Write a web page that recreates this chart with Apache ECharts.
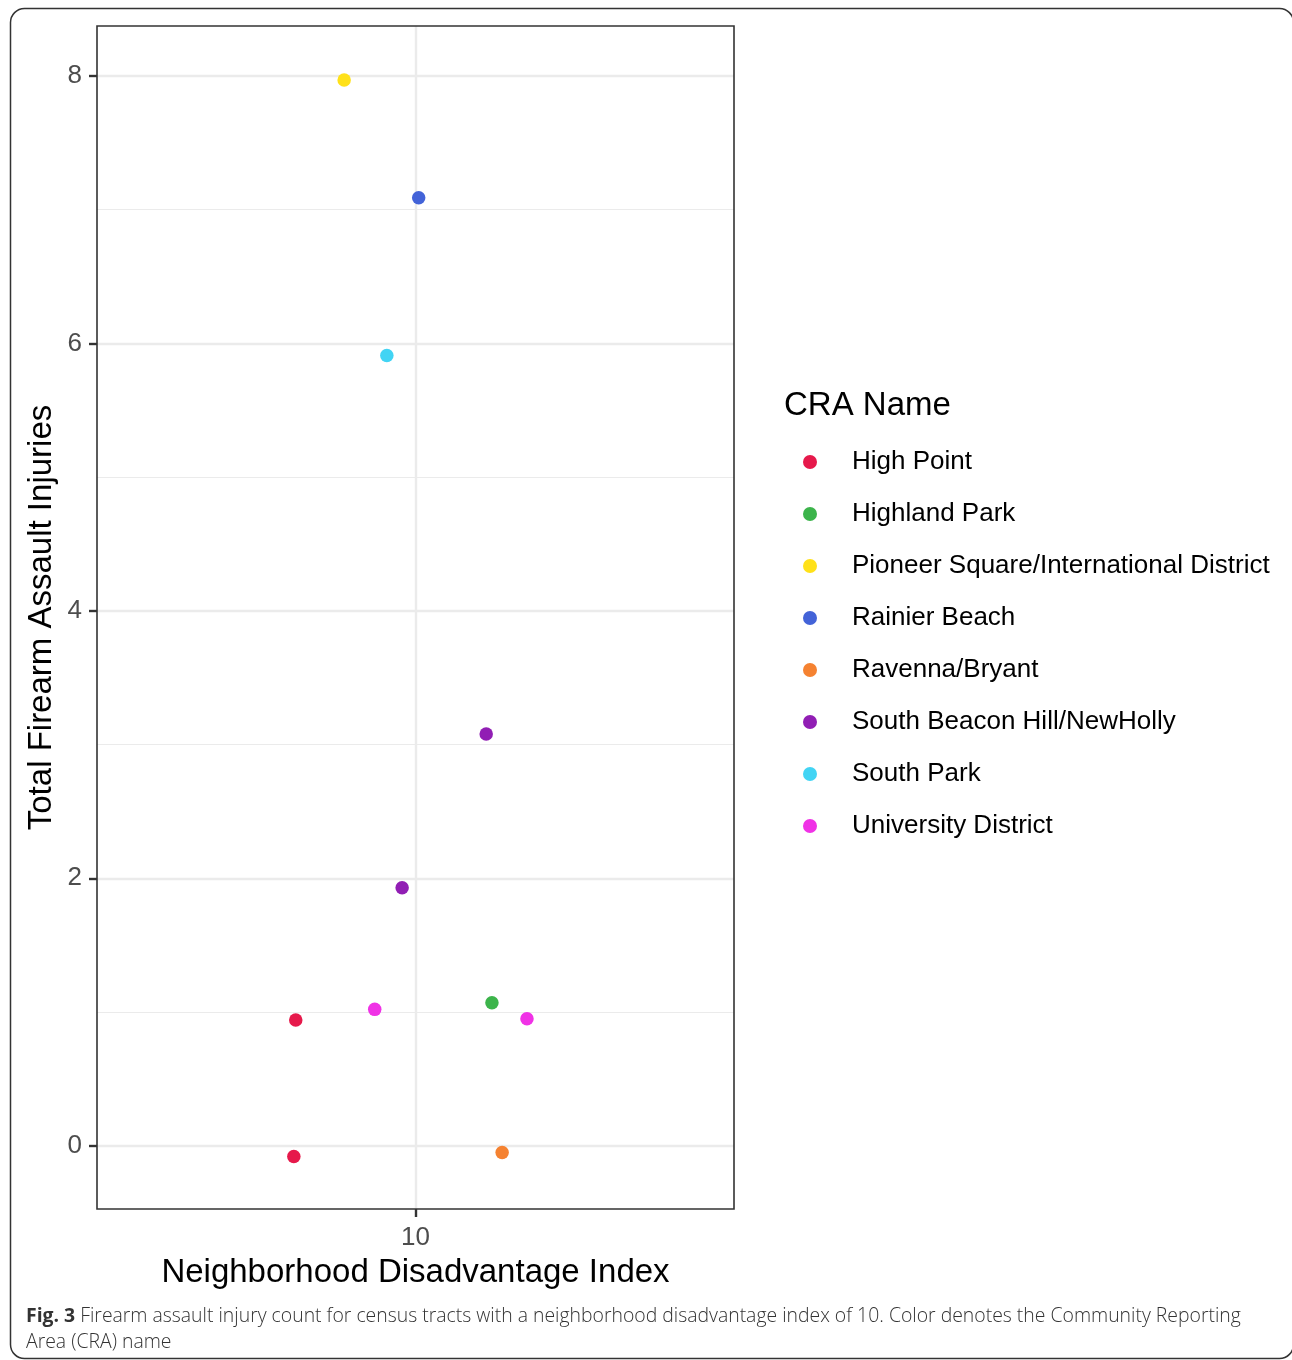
<!DOCTYPE html>
<html>
<head>
<meta charset="utf-8">
<title>Firearm assault injuries by CRA</title>
<script src="https://cdn.jsdelivr.net/npm/echarts@6/dist/echarts.min.js"></script>
<style>
  html, body { margin: 0; padding: 0; background: #ffffff; }
  #chart { width: 1292px; height: 1360px; }
</style>
</head>
<body>
<div id="chart"></div>
<script>
// Community Reporting Areas and their colours
const craNames = [
  'High Point',
  'Highland Park',
  'Pioneer Square/International District',
  'Rainier Beach',
  'Ravenna/Bryant',
  'South Beacon Hill/NewHolly',
  'South Park',
  'University District'
];
const craColors = ['#e6194b', '#3cb44b', '#ffe119', '#4363d8', '#f58231', '#911eb4', '#42d4f4', '#f032e6'];

// One entry per census tract (x is the jittered disadvantage index)
const pointCra = [
  'Pioneer Square/International District',
  'Rainier Beach',
  'South Park',
  'South Beacon Hill/NewHolly',
  'South Beacon Hill/NewHolly',
  'University District',
  'Highland Park',
  'University District',
  'High Point',
  'High Point',
  'Ravenna/Bryant'
];
const pointX = [9.888, 10.005, 9.955, 10.111, 9.979, 9.936, 10.120, 10.175, 9.812, 9.809, 10.136];
const pointY = [7.97, 7.09, 5.91, 3.08, 1.93, 1.02, 1.07, 0.95, 0.94, -0.08, -0.05];

// Axis ticks
const xTicks = [10];
const yMajorTicks = [0, 2, 4, 6, 8];
const yMinorTicks = [1, 3, 5, 7];

const captionBold = 'Fig. 3';
const captionText = ' Firearm assault injury count for census tracts with a neighborhood disadvantage index of 10. Color denotes the Community Reporting';
const captionText2 = 'Area (CRA) name';

const SANS = 'Liberation Sans, Arial, sans-serif';

const chart = echarts.init(document.getElementById('chart'), null, { renderer: 'canvas' });

const scatterSeries = craNames.map((name, i) => ({
  name: name,
  type: 'scatter',
  z: 5,
  symbol: 'circle',
  symbolSize: 13.5,
  itemStyle: { color: craColors[i], opacity: 1 },
  emphasis: { disabled: true },
  data: pointCra
    .map((c, k) => (c === name ? [pointX[k], pointY[k]] : null))
    .filter(d => d !== null)
}));

// Horizontal grid lines drawn as mark lines beneath the points
const gridSeries = {
  type: 'scatter',
  data: [],
  z: 1,
  silent: true,
  markLine: {
    silent: true,
    symbol: 'none',
    animation: false,
    label: { show: false },
    emphasis: { disabled: true, label: { show: false } },
    data: [
      ...yMajorTicks.map(v => ({ yAxis: v, lineStyle: { color: '#ebebeb', width: 2.4, type: 'solid' } })),
      ...yMinorTicks.map(v => ({ yAxis: v, lineStyle: { color: '#ebebeb', width: 1.2, type: 'solid' } }))
    ]
  }
};

const option = {
  animation: false,
  backgroundColor: '#ffffff',
  textStyle: { fontFamily: SANS },
  title: [
    {
      text: 'CRA Name',
      left: 779,
      top: 384,
      textStyle: { fontFamily: SANS, fontSize: 33, fontWeight: 'normal', color: '#000000' }
    },
    {
      text: '{b|' + captionBold + '}{r|' + captionText + '}\n{r|' + captionText2 + '}',
      left: 26,
      top: 1303,
      padding: 0,
      textStyle: {
        rich: {
          b: { fontFamily: 'Open Sans', fontSize: 19.4, fontWeight: 'bold', color: '#333333', lineHeight: 26 },
          r: { fontFamily: 'Open Sans', fontSize: 19.4, fontWeight: 300, color: '#333333', lineHeight: 26 }
        }
      }
    }
  ],
  graphic: [
    {
      type: 'rect',
      silent: true,
      z: 0,
      shape: { x: 10.5, y: 8.5, width: 1283, height: 1350, r: 14 },
      style: { fill: 'none', stroke: '#333333', lineWidth: 1.5 }
    }
  ],
  legend: {
    orient: 'vertical',
    left: 798,
    top: 444,
    data: craNames,
    icon: 'circle',
    itemWidth: 14,
    itemHeight: 14,
    itemGap: 26,
    selectedMode: false,
    textStyle: {
      fontFamily: SANS,
      fontSize: 26,
      color: '#000000',
      lineHeight: 26,
      padding: [0, 0, 0, 30]
    }
  },
  grid: {
    left: 97,
    top: 26,
    width: 637,
    height: 1183,
    show: true,
    backgroundColor: 'transparent',
    borderColor: '#333333',
    borderWidth: 1.6,
    z: 6
  },
  xAxis: {
    type: 'value',
    min: 9.5,
    max: 10.5,
    interval: 0.5,
    name: 'Neighborhood Disadvantage Index',
    nameLocation: 'middle',
    nameGap: 47,
    nameTextStyle: { fontFamily: SANS, fontSize: 33, color: '#000000', verticalAlign: 'top' },
    axisLine: { show: false, onZero: false },
    splitLine: { show: true, lineStyle: { color: '#ebebeb', width: 2.4 } },
    axisTick: { show: true, customValues: xTicks, length: 8, lineStyle: { color: '#333333', width: 2.4 } },
    axisLabel: { customValues: xTicks, margin: 16, fontSize: 26, color: '#4d4d4d', fontFamily: SANS }
  },
  yAxis: {
    type: 'value',
    min: -0.473,
    max: 8.374,
    name: 'Total Firearm Assault Injuries',
    nameLocation: 'middle',
    nameGap: 39,
    nameRotate: 90,
    nameTextStyle: { fontFamily: SANS, fontSize: 33, color: '#000000' },
    axisLine: { show: false, onZero: false },
    splitLine: { show: false },
    axisTick: { show: true, customValues: yMajorTicks, length: 8, lineStyle: { color: '#333333', width: 2.4 } },
    axisLabel: { customValues: yMajorTicks, margin: 15, fontSize: 26, color: '#4d4d4d', fontFamily: SANS }
  },
  series: [gridSeries, ...scatterSeries]
};

chart.setOption(option);
</script>
</body>
</html>
